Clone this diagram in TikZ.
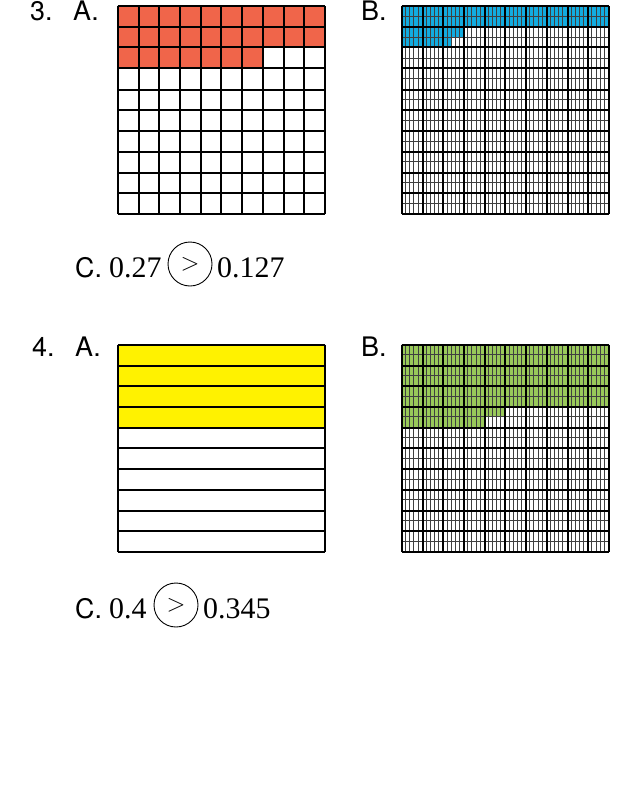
\documentclass[tikz,border=0pt]{standalone}
\usepackage{fontspec}
\setmainfont{Liberation Serif}
\setsansfont{TeX Gyre Heros}
\usetikzlibrary{positioning}
\definecolor{gridred}{HTML}{F0654A}
\definecolor{gridblue}{HTML}{12ACE0}
\definecolor{gridyellow}{HTML}{FFF200}
\definecolor{gridgreen}{HTML}{99C95A}
% thousandths grid, 50 x 20 cells, drawn at the scope origin
\newcommand{\milgrid}{%
  \foreach \i in {0,...,50} \draw[fine] ({round(4.14*\i)},0) -- ({round(4.14*\i)},207);
  \foreach \j in {0,...,20} \draw[fine] (0,{round(10.35*\j)}) -- (207,{round(10.35*\j)});
  \foreach \i in {0,...,10} {
    \draw[coarse] ({round(20.7*\i)},0) -- ({round(20.7*\i)},207);
    \draw[coarse] (0,{round(20.7*\i)}) -- (207,{round(20.7*\i)});
  }}

\begin{document}
\begin{tikzpicture}[x=1bp,y=-1bp,
  numlab/.style={font=\sffamily\fontsize{27}{28}\selectfont,anchor=base west,inner sep=0pt},
  cmpnum/.style={font=\fontsize{30}{30}\selectfont,anchor=base west,inner sep=0pt},
  cmpsign/.style={draw,circle,line width=0.9pt,minimum size=44bp,inner sep=0pt,
    font=\fontsize{32}{32}\selectfont},
  cell/.style={line width=2bp},
  coarse/.style={line width=2bp},
  fine/.style={line width=0.6bp,black!75}]
\useasboundingbox (0,0) rectangle (628,808);

% problem 3
\node[numlab] (num3) at (30,21) {3.};
\node[numlab] (part3a) at (73,21) {A.};
\node[numlab] (part3b) at (361,21) {B.};

\begin{scope}[shift={(117.5,6.5)}]
  \fill[gridred] (0,0) rectangle (207,41);
  \fill[gridred] (0,41) rectangle (145,62);
  \foreach \i in {0,...,10} {
    \draw[cell] ({round(20.7*\i)},0) -- ({round(20.7*\i)},207);
    \draw[cell] (0,{round(20.7*\i)}) -- (207,{round(20.7*\i)});
  }
\end{scope}

\begin{scope}[shift={(401.5,6.5)}]
  \fill[gridblue] (0,0) rectangle (207,21);
  \fill[gridblue] (0,21) rectangle (62,31);
  \fill[gridblue] (0,31) rectangle (50,41);
  \milgrid
\end{scope}

\node[numlab] (part3c) at (75,277) {C.};
\node[cmpnum] (left3) at (109,277) {0.27};
\node[cmpsign] (sign3) at (190,264) {\raisebox{-3pt}{$>$}};
\node[cmpnum] (right3) at (217,277) {0.127};

% problem 4
\node[numlab] (num4) at (32,356) {4.};
\node[numlab] (part4a) at (75,356) {A.};
\node[numlab] (part4b) at (361,356) {B.};

\begin{scope}[shift={(117.5,344.5)}]
  \fill[gridyellow] (0,0) rectangle (207,83);
  \foreach \j in {0,...,10}
    \draw[cell] (0,{round(20.7*\j)}) -- (207,{round(20.7*\j)});
  \draw[cell] (0,0) -- (0,207) (207,0) -- (207,207);
\end{scope}

\begin{scope}[shift={(401.5,344.5)}]
  \fill[gridgreen] (0,0) rectangle (207,62);
  \fill[gridgreen] (0,62) rectangle (104,72);
  \fill[gridgreen] (0,72) rectangle (83,83);
  \milgrid
\end{scope}

\node[numlab] (part4c) at (75,618) {C.};
\node[cmpnum] (left4) at (109,618) {0.4};
\node[cmpsign] (sign4) at (176,605) {\raisebox{-3pt}{$>$}};
\node[cmpnum] (right4) at (203,618) {0.345};
\end{tikzpicture}
\end{document}
